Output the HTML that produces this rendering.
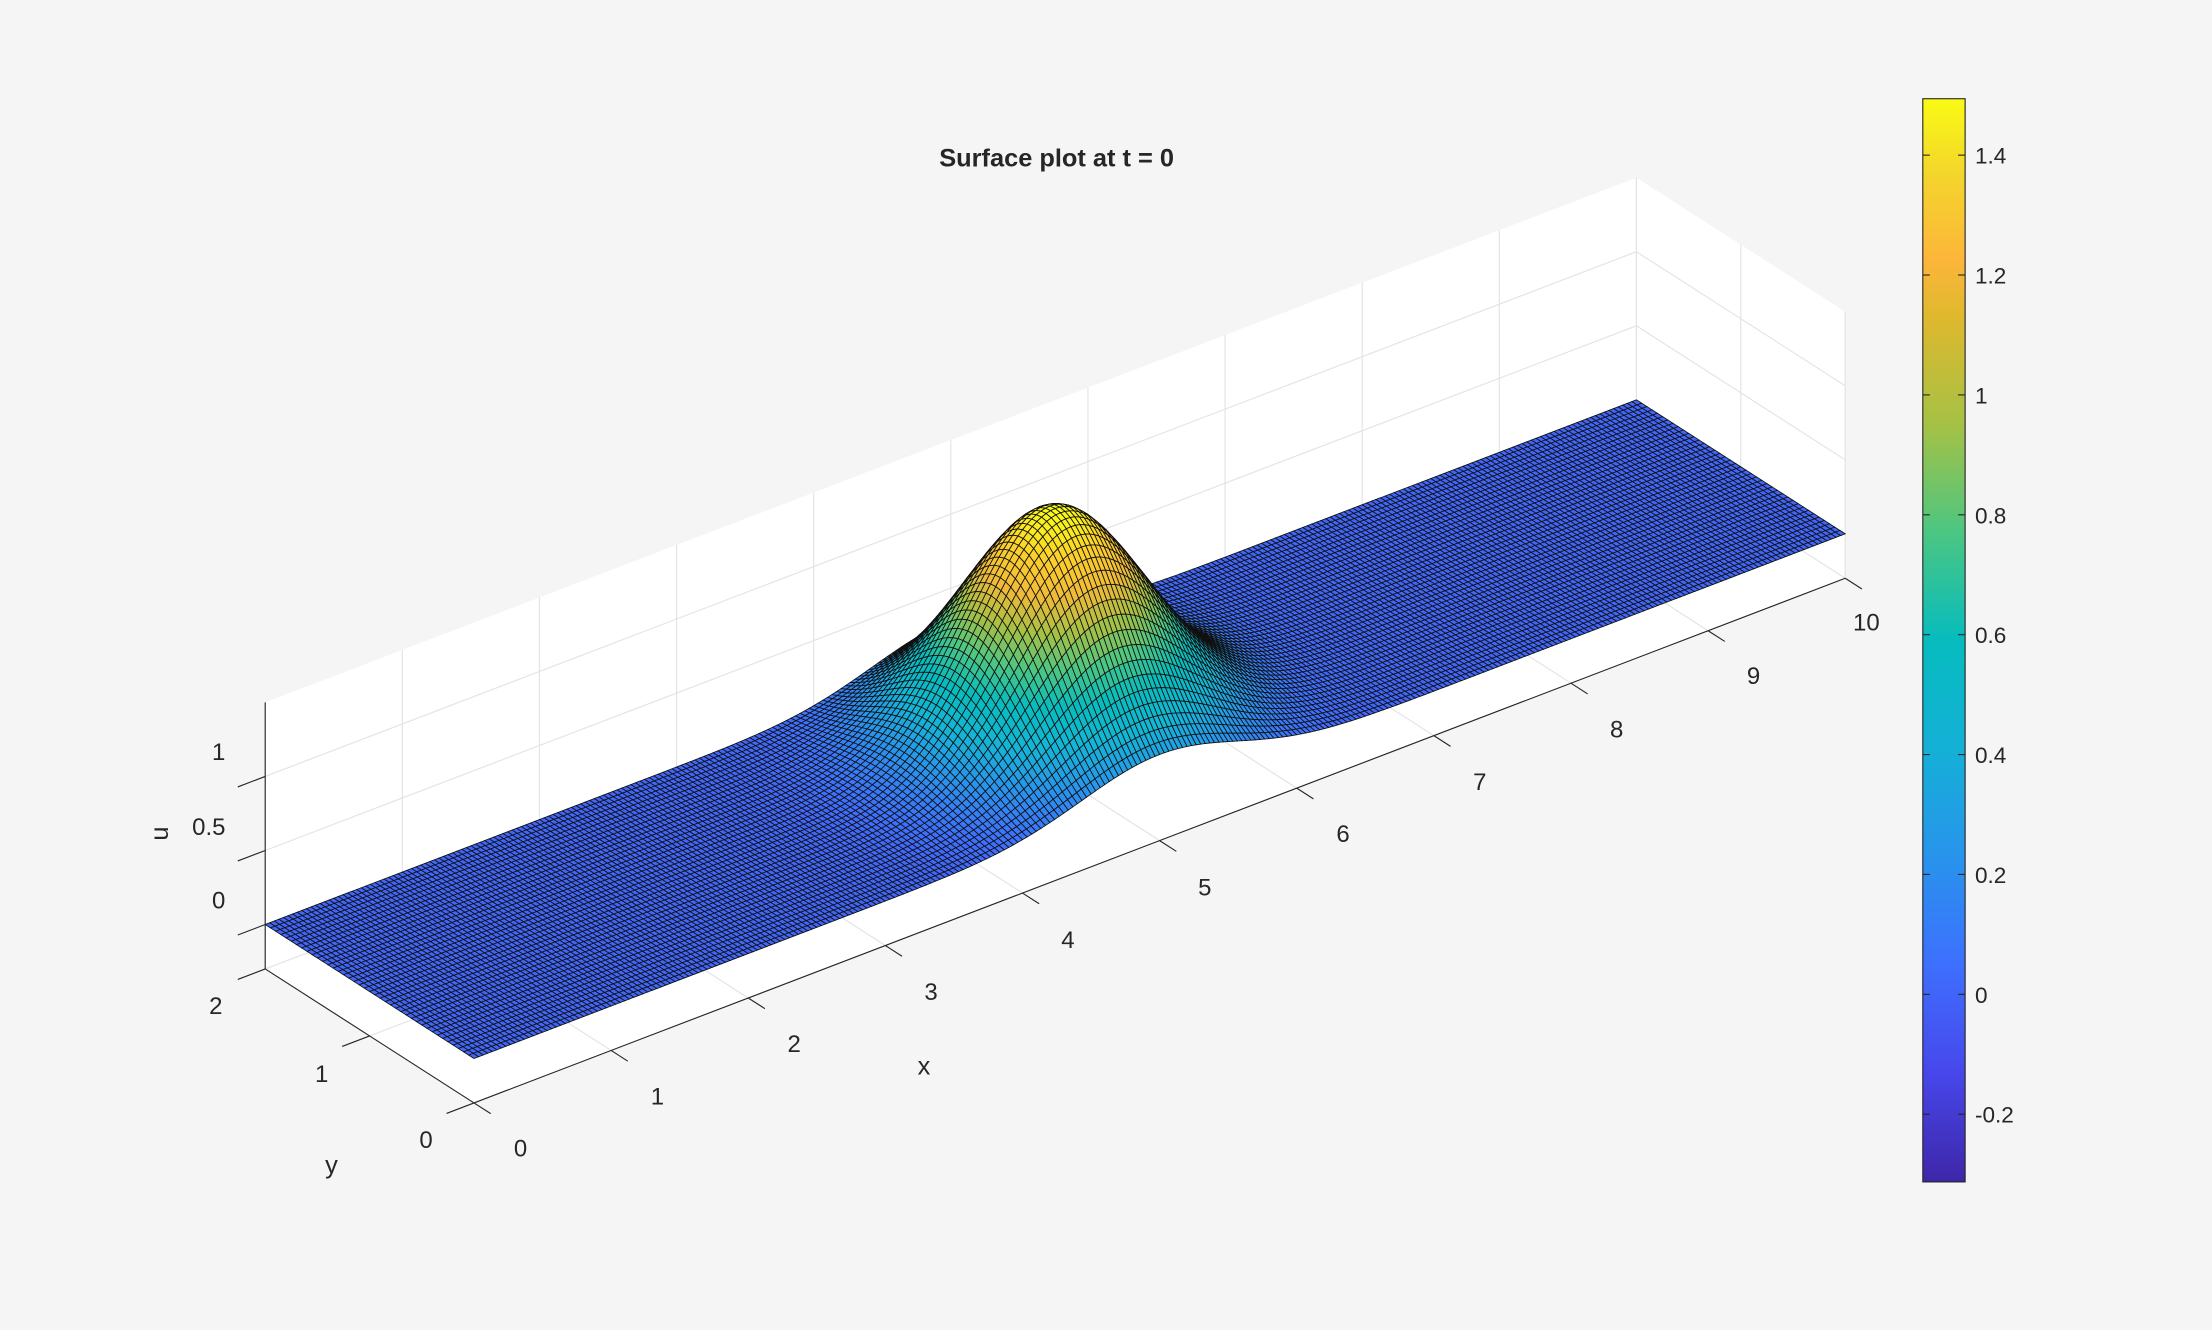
<!DOCTYPE html>
<html><head><meta charset="utf-8"><style>
html,body{margin:0;padding:0;background:#f5f5f5;}
svg{display:block;}
text{font-family:"Liberation Sans",sans-serif;fill:#262626;}
</style></head><body>
<svg id="s" width="2212" height="1330" viewBox="0 0 1568 943" preserveAspectRatio="none" xmlns="http://www.w3.org/2000/svg">
<defs>
<linearGradient id="cb" x1="0" y1="1" x2="0" y2="0">
<stop offset="0" stop-color="#3e26a8"/><stop offset="0.1" stop-color="#4747eb"/>
<stop offset="0.2" stop-color="#3e6ffe"/><stop offset="0.3" stop-color="#2894ec"/>
<stop offset="0.4" stop-color="#14b0d6"/><stop offset="0.5" stop-color="#06bcbe"/>
<stop offset="0.6" stop-color="#4cc682"/><stop offset="0.7" stop-color="#a6c144"/>
<stop offset="0.8" stop-color="#e0b82e"/><stop offset="0.85" stop-color="#fcb63a"/>
<stop offset="0.93" stop-color="#f4d52c"/><stop offset="1" stop-color="#f9fb14"/>
</linearGradient>
</defs>
<rect x="0" y="0" width="1568" height="943" fill="#f5f5f5"/>
<g id="walls"></g>
<g id="surf"></g>
<g id="axes"></g>
<text x="749" y="118" text-anchor="middle" font-size="18" font-weight="bold">Surface plot at t = 0</text>
<rect x="1363" y="70" width="30" height="768" fill="url(#cb)" stroke="#262626" stroke-width="0.8"/>
<g id="cbt"></g>
</svg>
<script>
var NS="http://www.w3.org/2000/svg";
function P(x,y,z){return [336+97.2*x-74*y, 782-37.2*x-47.5*y-105*(z+0.3)];}
function el(par,tag,attrs,txt){var e=document.createElementNS(NS,tag);for(var k in attrs)e.setAttribute(k,attrs[k]);if(txt!==undefined)e.textContent=txt;document.getElementById(par).appendChild(e);return e;}
function pts(a){return a.map(function(p){return p[0].toFixed(2)+","+p[1].toFixed(2);}).join(" ");}
var zl=-0.3,zh=1.5;
el("walls","polygon",{points:pts([P(0,2,zl),P(10,2,zl),P(10,2,zh),P(0,2,zh)]),fill:"#fff"});
el("walls","polygon",{points:pts([P(10,0,zl),P(10,2,zl),P(10,2,zh),P(10,0,zh)]),fill:"#fff"});
el("walls","polygon",{points:pts([P(0,0,zl),P(10,0,zl),P(10,2,zl),P(0,2,zl)]),fill:"#fff"});
var gs={stroke:"#e3e3e3","stroke-width":0.8,fill:"none"};
for(var i=0;i<=10;i++){var a=P(i,2,zl),b=P(i,2,zh);el("walls","line",Object.assign({x1:a[0],y1:a[1],x2:b[0],y2:b[1]},gs));
 var c=P(i,0,zl);el("walls","line",Object.assign({x1:c[0],y1:c[1],x2:a[0],y2:a[1]},gs));}
[0,0.5,1].forEach(function(z){var a=P(0,2,z),b=P(10,2,z),c=P(10,0,z);el("walls","polyline",Object.assign({points:pts([a,b,c])},gs));});
[0,1,2].forEach(function(y){var a=P(10,y,zl),b=P(10,y,zh),c=P(0,y,zl);el("walls","polyline",Object.assign({points:pts([c,a,b])},gs));});
function u(x,y){return 1.49*Math.exp(-((x-5)*(x-5))/0.65-((y-1)*(y-1))/0.6);}
var C=[[0.2422,0.1504,0.6603],[0.2803,0.2782,0.9221],[0.2440,0.4358,0.9988],[0.1540,0.5902,0.9218],[0.0704,0.7170,0.8375],[0.0240,0.7400,0.7450],[0.3000,0.7800,0.5100],[0.6500,0.7550,0.2700],[0.9400,0.7300,0.2200],[0.9900,0.8100,0.1700],[0.9769,0.9839,0.0805]];
function cmap(v){var t=(v+0.32)/(1.49+0.32);t=Math.max(0,Math.min(1,t))*10;var i=Math.min(9,Math.floor(t)),f=t-i;var c=C[i].map(function(q,k){return Math.round(255*(q+(C[i+1][k]-q)*f));});return "rgb("+c.join(",")+")";}
var NX=300,NY=40,faces=[];
for(var i=0;i<NX;i++)for(var j=0;j<NY;j++){
 var x0=10*i/NX,x1=10*(i+1)/NX,y0=2*j/NY,y1=2*(j+1)/NY;
 var xm=(x0+x1)/2,ym=(y0+y1)/2;
 faces.push({d:37.2*xm+47.5*ym,p:[P(x0,y0,u(x0,y0)),P(x1,y0,u(x1,y0)),P(x1,y1,u(x1,y1)),P(x0,y1,u(x0,y1))],c:cmap((u(x0,y0)+u(x1,y0)+u(x1,y1)+u(x0,y1))/4)});}
faces.sort(function(a,b){return b.d-a.d;});
var g=document.getElementById("surf"),frag=document.createDocumentFragment();
faces.forEach(function(f){var e=document.createElementNS(NS,"polygon");e.setAttribute("points",pts(f.p));e.setAttribute("fill",f.c);e.setAttribute("stroke","#111");e.setAttribute("stroke-width","0.6");frag.appendChild(e);});
g.appendChild(frag);
var ax={stroke:"#262626","stroke-width":0.8,fill:"none"};
var a=P(0,0,zl),b=P(10,0,zl);el("axes","line",Object.assign({x1:a[0],y1:a[1],x2:b[0],y2:b[1]},ax));
a=P(0,0,zl);b=P(0,2,zl);el("axes","line",Object.assign({x1:a[0],y1:a[1],x2:b[0],y2:b[1]},ax));
a=P(0,2,zl);b=P(0,2,zh);el("axes","line",Object.assign({x1:a[0],y1:a[1],x2:b[0],y2:b[1]},ax));
var xl=[[369,814],[466,777],[563,740],[660,703],[757,666],[854,629],[952,591],[1049,554],[1146,517],[1243,479],[1323,441]];
for(var i=0;i<=10;i++){a=P(i,0,zl);b=P(i,-0.16,zl);el("axes","line",Object.assign({x1:a[0],y1:a[1],x2:b[0],y2:b[1]},ax));
 el("axes","text",{x:xl[i][0],y:xl[i][1]+6,"font-size":"17","text-anchor":"middle"},String(i));}
var yl=[[302,808],[228,761],[153,713]];
for(var j=0;j<=2;j++){a=P(0,j,zl);b=P(-0.2,j,zl);el("axes","line",Object.assign({x1:a[0],y1:a[1],x2:b[0],y2:b[1]},ax));
 el("axes","text",{x:yl[j][0],y:yl[j][1]+6,"font-size":"17","text-anchor":"middle"},String(j));}
var zlab=[[0,"0",155,638],[0.5,"0.5",148,586],[1,"1",155,533]];
zlab.forEach(function(q){a=P(0,2,q[0]);b=P(-0.2,2,q[0]);el("axes","line",Object.assign({x1:a[0],y1:a[1],x2:b[0],y2:b[1]},ax));
 el("axes","text",{x:q[2],y:q[3]+6,"font-size":"17","text-anchor":"middle"},q[1]);});
el("axes","text",{x:655,y:762,"font-size":"18","text-anchor":"middle"},"x");
el("axes","text",{x:235,y:832,"font-size":"18","text-anchor":"middle"},"y");
el("axes","text",{x:119,y:591,"font-size":"18","text-anchor":"middle",transform:"rotate(-90 119 591)"},"u");
for(var k=0;k<=8;k++){var v=1.4-0.2*k;var yy=110+k*85;var s=Math.abs(v)<1e-9?"0":(Math.round(v*10)/10).toString();
 el("cbt","line",{x1:1363,y1:yy,x2:1368,y2:yy,stroke:"#262626","stroke-width":0.8});
 el("cbt","line",{x1:1388,y1:yy,x2:1393,y2:yy,stroke:"#262626","stroke-width":0.8});
 el("cbt","text",{x:1400,y:yy+6,"font-size":"16"},s);}
</script>
</body></html>
